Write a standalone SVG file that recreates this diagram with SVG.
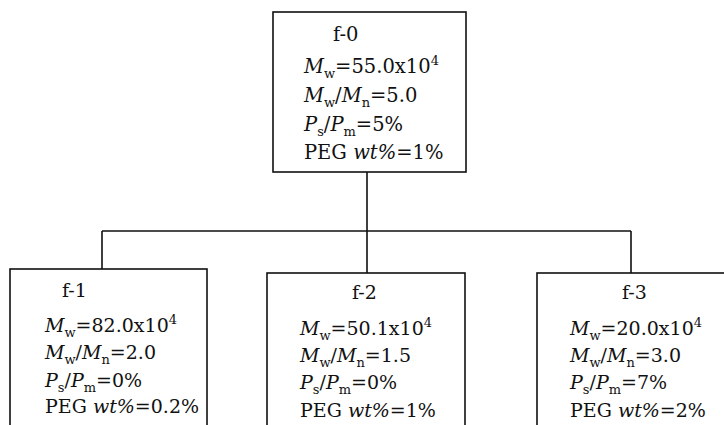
<svg xmlns="http://www.w3.org/2000/svg" width="724" height="425" viewBox="0 0 724 425">
<style>
  .box { fill: #ffffff; stroke: #111111; stroke-width: 1.6; }
  .conn { fill: none; stroke: #111111; stroke-width: 1.6; }
  text { font-family: "DejaVu Serif", "Liberation Serif", serif; fill: #111111; }
  .t0 { font-size: 19.5px; }
  .t1 { font-size: 19px; }
  .i { font-style: italic; }
  .sub { font-size: 13px; }
  .sup { font-size: 13px; }
</style>
<rect x="0" y="0" width="724" height="425" fill="#ffffff"/>
<g id="connectors">
  <path class="conn" d="M367 172 V231 M102 231 H631 M102 231 V269 M367 231 V273 M631 231 V273"/>
</g>
<g id="f-0">
  <rect class="box" x="273" y="12" width="193" height="160"/>
  <text class="t0" x="333" y="41">f-0</text>
  <text class="t0" x="304" y="73"><tspan class="i">M</tspan><tspan class="sub" dy="5">w</tspan><tspan dy="-5">=55.0x10</tspan><tspan class="sup" dy="-8">4</tspan></text>
  <text class="t0" x="304" y="102"><tspan class="i">M</tspan><tspan class="sub" dy="5">w</tspan><tspan dy="-5">/</tspan><tspan class="i">M</tspan><tspan class="sub" dy="5">n</tspan><tspan dy="-5">=5.0</tspan></text>
  <text class="t0" x="304" y="131"><tspan class="i">P</tspan><tspan class="sub" dy="5">s</tspan><tspan dy="-5">/</tspan><tspan class="i">P</tspan><tspan class="sub" dy="5">m</tspan><tspan dy="-5">=5%</tspan></text>
  <text class="t0" x="304" y="159">PEG <tspan class="i">wt%</tspan>=1%</text>
</g>
<g id="f-1">
  <rect class="box" x="10" y="269" width="197" height="170"/>
  <text class="t1" x="62" y="297">f-1</text>
  <text class="t1" x="45" y="332"><tspan class="i">M</tspan><tspan class="sub" dy="5">w</tspan><tspan dy="-5">=82.0x10</tspan><tspan class="sup" dy="-8">4</tspan></text>
  <text class="t1" x="45" y="359"><tspan class="i">M</tspan><tspan class="sub" dy="5">w</tspan><tspan dy="-5">/</tspan><tspan class="i">M</tspan><tspan class="sub" dy="5">n</tspan><tspan dy="-5">=2.0</tspan></text>
  <text class="t1" x="45" y="387"><tspan class="i">P</tspan><tspan class="sub" dy="5">s</tspan><tspan dy="-5">/</tspan><tspan class="i">P</tspan><tspan class="sub" dy="5">m</tspan><tspan dy="-5">=0%</tspan></text>
  <text class="t1" x="45" y="413">PEG <tspan class="i">wt%</tspan>=0.2%</text>
</g>
<g id="f-2">
  <rect class="box" x="267" y="273" width="198" height="170"/>
  <text class="t1" x="352" y="299">f-2</text>
  <text class="t1" x="300" y="335"><tspan class="i">M</tspan><tspan class="sub" dy="5">w</tspan><tspan dy="-5">=50.1x10</tspan><tspan class="sup" dy="-8">4</tspan></text>
  <text class="t1" x="300" y="362"><tspan class="i">M</tspan><tspan class="sub" dy="5">w</tspan><tspan dy="-5">/</tspan><tspan class="i">M</tspan><tspan class="sub" dy="5">n</tspan><tspan dy="-5">=1.5</tspan></text>
  <text class="t1" x="300" y="389"><tspan class="i">P</tspan><tspan class="sub" dy="5">s</tspan><tspan dy="-5">/</tspan><tspan class="i">P</tspan><tspan class="sub" dy="5">m</tspan><tspan dy="-5">=0%</tspan></text>
  <text class="t1" x="300" y="417">PEG <tspan class="i">wt%</tspan>=1%</text>
</g>
<g id="f-3">
  <rect class="box" x="537" y="273" width="200" height="170"/>
  <text class="t1" x="622" y="299">f-3</text>
  <text class="t1" x="570" y="335"><tspan class="i">M</tspan><tspan class="sub" dy="5">w</tspan><tspan dy="-5">=20.0x10</tspan><tspan class="sup" dy="-8">4</tspan></text>
  <text class="t1" x="570" y="362"><tspan class="i">M</tspan><tspan class="sub" dy="5">w</tspan><tspan dy="-5">/</tspan><tspan class="i">M</tspan><tspan class="sub" dy="5">n</tspan><tspan dy="-5">=3.0</tspan></text>
  <text class="t1" x="570" y="389"><tspan class="i">P</tspan><tspan class="sub" dy="5">s</tspan><tspan dy="-5">/</tspan><tspan class="i">P</tspan><tspan class="sub" dy="5">m</tspan><tspan dy="-5">=7%</tspan></text>
  <text class="t1" x="570" y="417">PEG <tspan class="i">wt%</tspan>=2%</text>
</g>
</svg>
